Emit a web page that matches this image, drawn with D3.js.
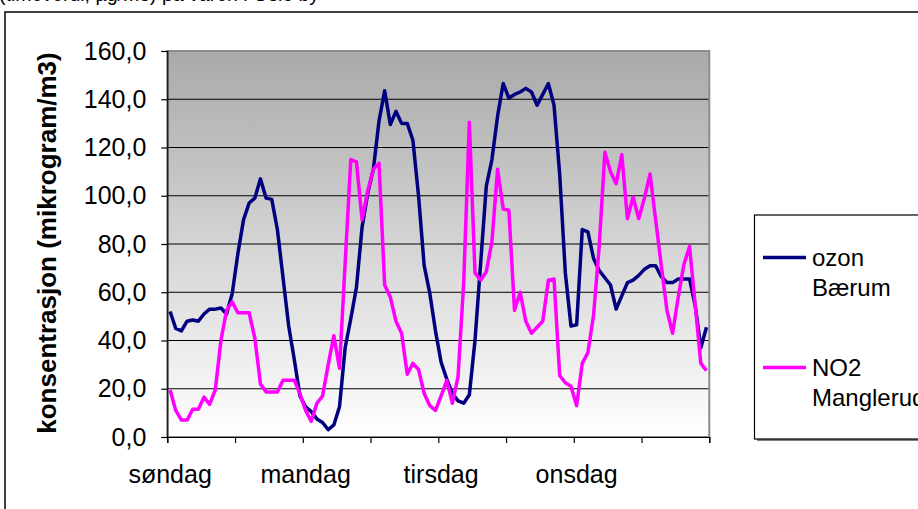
<!DOCTYPE html>
<html>
<head>
<meta charset="utf-8">
<script src="https://cdn.jsdelivr.net/npm/d3@7"></script>
<style>
  body { margin: 0; background: #fff; }
  svg { display: block; font-family: "Liberation Sans", Arial, sans-serif; }
</style>
</head>
<body>
<div id="chart"></div>
<script>
// dager som vises under x-aksen (en etikett per 24 timer)
var dager = ["søndag", "mandag", "tirsdag", "onsdag"];
var timerPerDag = 24;

// timeverdier, lest av figuren
var ozonBaerum = [
    52, 45, 44, 48, 48.5, 48, 51, 53, 53, 53.5, 51, 59.5,
    76, 90, 97, 99, 107, 99, 98.5, 86, 66, 46, 32, 17,
    12.5, 10.5, 7.5, 6, 3, 5, 12.5, 37, 49, 62, 87, 101,
    111, 131, 143.5, 129.5, 135, 130, 130, 123, 100, 71, 59.5, 44,
    31, 24, 18, 15, 14, 17.5, 40, 72, 104, 115, 133, 146.5,
    140.5, 142, 143, 144.5, 143, 137.5, 142, 146.5, 137.5, 109, 68, 46,
    46.5, 86, 85, 74, 69, 66, 63, 53, 58.5, 64, 65, 67,
    69.5, 71, 71, 66.5, 64, 64, 65.5, 65.5, 65.5, 54.5, 37, 45.5
];
var no2Manglerud = [
    19.5, 11, 7, 7, 11.5, 11.5, 16.5, 13.5, 19.5, 40, 52.5, 56,
    51.5, 51.5, 51.5, 41, 22, 18.7, 18.7, 18.7, 23.5, 23.5, 23.5, 18,
    11, 6.5, 14, 17, 30, 42, 28.5, 72, 115, 114, 90, 102,
    111, 113.5, 63, 58, 48, 43, 26, 30.5, 28, 18, 13, 11,
    17, 23.5, 14, 25, 64, 130.5, 68, 65, 68.5, 81, 111, 94.5,
    94, 52.5, 60, 48, 43, 45.5, 48, 65, 65.5, 25.5, 22.5, 21,
    13, 30.5, 35, 50.5, 79, 118, 110, 105, 117, 90.5, 99.5, 90.5,
    99, 109, 90, 71, 52.5, 43, 58, 71.5, 79, 55, 30.5, 27.5
];
var yTicks = [0, 20, 40, 60, 80, 100, 120, 140, 160];
var serier = [
    {navn: ["ozon", "Bærum"], verdier: ozonBaerum, farge: "#000080"},
    {navn: ["NO2", "Manglerud"], verdier: no2Manglerud, farge: "#FF00FF"}
];

var width = 918, height = 509;
var plotLeft = 167.3, plotRight = 709.3, plotTop = 51, plotBottom = 437;

var svg = d3.select("#chart").append("svg")
    .attr("width", width)
    .attr("height", height);

// kategorier: en per time
var kategorier = d3.range(ozonBaerum.length);
var x = d3.scaleBand().domain(kategorier).range([plotLeft, plotRight]);
var xEdge = d3.scaleLinear().domain([0, kategorier.length]).range([plotLeft, plotRight]);
var y = d3.scaleLinear().domain([0, 160]).range([plotBottom, plotTop]);

// tittel, bare nederste del er synlig
svg.append("text")
    .attr("x", -1)
    .attr("y", 1)
    .style("font-size", "19.5px")
    .text("(timeverdi, µg/m3) på våren i Oslo by");

// ytre ramme
svg.append("rect")
    .attr("x", 5).attr("y", 12)
    .attr("width", 1000).attr("height", 1000)
    .attr("fill", "none")
    .attr("stroke", "#000")
    .attr("stroke-width", 1.5);

// bakgrunn med gradient
var grad = svg.append("defs").append("linearGradient")
    .attr("id", "bg")
    .attr("x1", "0%").attr("x2", "0%")
    .attr("y1", "0%").attr("y2", "100%");
grad.append("stop").attr("offset", "0%").attr("stop-color", "#A9A9A9");
grad.append("stop").attr("offset", "100%").attr("stop-color", "#FFFFFF");

svg.append("rect")
    .attr("x", plotLeft).attr("y", plotTop)
    .attr("width", plotRight - plotLeft).attr("height", plotBottom - plotTop)
    .attr("fill", "url(#bg)");

// rutenett
svg.append("g").selectAll("line")
    .data(yTicks.filter(function(d) { return d > 0 && d < 160; }))
    .enter().append("line")
    .attr("x1", plotLeft).attr("x2", plotRight)
    .attr("y1", function(d) { return y(d); })
    .attr("y2", function(d) { return y(d); })
    .attr("stroke", "#000")
    .attr("stroke-width", 1);

// ramme rundt plottet
svg.append("rect")
    .attr("x", plotLeft).attr("y", plotTop)
    .attr("width", plotRight - plotLeft).attr("height", plotBottom - plotTop)
    .attr("fill", "none")
    .attr("stroke", "#8C8C8C")
    .attr("stroke-width", 2);

// y-akse
var yAxis = d3.axisLeft(y)
    .tickValues(yTicks)
    .tickSize(6)
    .tickPadding(15)
    .tickFormat(function(d) { return d3.format(".1f")(d).replace(".", ","); });
var gy = svg.append("g")
    .attr("transform", "translate(" + plotLeft + ",0)")
    .call(yAxis);
gy.selectAll("text").style("font-size", "25px").attr("fill", "#000");
gy.selectAll("line, path").attr("stroke", "#000").attr("stroke-width", 1.2);

// x-akse: streker hver 12. time
var xAxis = d3.axisBottom(xEdge)
    .tickValues(d3.range(0, kategorier.length + 1, 12))
    .tickSize(6)
    .tickFormat("");
var gx = svg.append("g")
    .attr("transform", "translate(0," + plotBottom + ")")
    .call(xAxis);
gx.selectAll("line, path").attr("stroke", "#000").attr("stroke-width", 1.2);

svg.append("g").selectAll("text")
    .data(dager)
    .enter().append("text")
    .attr("x", function(d, i) { return x(i * timerPerDag) + x.bandwidth() / 2; })
    .attr("y", 483)
    .attr("text-anchor", "middle")
    .style("font-size", "25px")
    .text(function(d) { return d; });

// y-aksetittel
svg.append("text")
    .attr("transform", "translate(56,243) rotate(-90)")
    .attr("text-anchor", "middle")
    .style("font-size", "26px")
    .style("font-weight", "bold")
    .text("konsentrasjon (mikrogram/m3)");

// linjene
var line = d3.line()
    .x(function(d, i) { return x(i) + x.bandwidth() / 2; })
    .y(function(d) { return y(d); });

svg.append("g").selectAll("path")
    .data(serier)
    .enter().append("path")
    .attr("d", function(d) { return line(d.verdier); })
    .attr("fill", "none")
    .attr("stroke", function(d) { return d.farge; })
    .attr("stroke-width", 3.5)
    .attr("stroke-linejoin", "round");

// legende
var leg = svg.append("g");
leg.append("rect")
    .attr("x", 757).attr("y", 217)
    .attr("width", 300).attr("height", 224)
    .attr("fill", "#808080");
leg.append("rect")
    .attr("x", 754.5).attr("y", 215)
    .attr("width", 300).attr("height", 224)
    .attr("fill", "#fff")
    .attr("stroke", "#000")
    .attr("stroke-width", 1.2);

var item = leg.selectAll(".item")
    .data(serier)
    .enter().append("g")
    .attr("class", "item")
    .attr("transform", function(d, i) { return "translate(0," + (257.5 + i * 110) + ")"; });
item.append("line")
    .attr("x1", 763).attr("x2", 806)
    .attr("stroke", function(d) { return d.farge; })
    .attr("stroke-width", 3.5);
item.append("text")
    .attr("x", 812)
    .attr("y", 8)
    .style("font-size", "24px")
    .text(function(d) { return d.navn[0]; });
item.append("text")
    .attr("x", 812)
    .attr("y", 38)
    .style("font-size", "24px")
    .text(function(d) { return d.navn[1]; });
</script>
</body>
</html>
